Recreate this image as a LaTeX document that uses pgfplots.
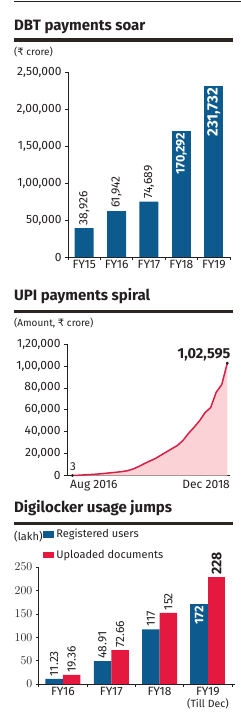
\documentclass[border=0pt]{standalone}
\usepackage{pgfplots}
\pgfplotsset{compat=1.18}
\usepackage{pgfplotstable}
\usepackage{fontspec}
\setmainfont{Fira Sans}
\newfontfamily\rupeefont{DejaVu Sans}
\definecolor{ink}{HTML}{231F20}
\definecolor{rulec}{HTML}{2B2623}
\definecolor{dbtblue}{HTML}{0C5A8E}
\definecolor{upired}{HTML}{D81E45}
\definecolor{upifill}{HTML}{FBD3D6}
\definecolor{dlred}{HTML}{E5193F}
\newcommand\tickfont{\fontsize{12}{13}\selectfont}
\newcommand\titlefont{\fontsize{15}{16}\selectfont\bfseries}
\newcommand\unitfont{\fontsize{10}{11}\selectfont}

\pgfplotstableread{
m v
0 3
1 200
2 500
3 800
4 1100
5 1500
6 2000
7 2500
8 3000
9 3600
10 4400
11 6000
12 8200
13 10800
14 13200
15 15500
16 18500
17 21500
18 24500
19 27500
20 32000
21 38500
22 44000
23 50000
24 57500
25 62000
26 76000
27 83000
28 102595
}\upidata

\pgfplotstableread{
x y l
0 38926 38,926
1 61942 61,942
2 74689 74,689
}\dbtA
\pgfplotstableread{
x y l
3 170292 170,292
}\dbtB
\pgfplotstableread{
x y l
4 231732 231,732
}\dbtC

\pgfplotsset{
  panel/.style={
    scale only axis, anchor=south west, clip=false,
    axis x line=bottom, axis y line=left,
    axis line style={-, ink, line width=0.6pt},
    tick align=outside, major tick length=3pt,
    tick style={ink, line width=0.6pt},
    tick label style={font=\tickfont, text=ink},
    scaled y ticks=false,
  },
  lbl/.style={point meta=explicit symbolic, nodes near coords={\pgfplotspointmeta}},
}

\begin{document}
\begin{tikzpicture}[x=1pt,y=1pt]
% ---------- Panel 1 ----------
\draw[ink, line width=0.8pt] (14,-1) -- (241,-1);
\node[anchor=base west, inner sep=0, font=\titlefont, text=ink] at (14,-30) {DBT payments soar};
\draw[rulec, line width=3.3pt] (14,-40) -- (233,-40);
\node[anchor=base west, inner sep=0, font=\unitfont, text=ink] at (14,-55.5) {({\rupeefont ₹} crore)};

\begin{axis}[panel,
  at={(68pt,-257pt)}, width=162pt, height=185pt,
  xmin=-0.5, xmax=4.5, ymin=0, ymax=250000,
  xtick={-0.5,0.5,1.5,2.5,3.5,4.5}, xticklabels={},
  extra x ticks={0,1,2,3,4},
  extra x tick labels={FY15,FY16,FY17,FY18,FY19},
  extra x tick style={major tick length=0pt},
  ytick={0,50000,100000,150000,200000,250000},
  yticklabels={0,{50,000},{1,00,000},{1,50,000},{2,00,000},{2,50,000}},
]
\addplot[ybar, bar width=19pt, bar shift=0pt, fill=dbtblue, draw=none, lbl,
  nodes near coords style={rotate=90, anchor=west, inner sep=3pt, font=\fontsize{12}{13}\selectfont, text=ink}]
  table[x=x, y=y, meta=l] {\dbtA};
\addplot[ybar, bar width=19pt, bar shift=0pt, fill=dbtblue, draw=none, lbl,
  nodes near coords style={rotate=90, anchor=east, inner sep=2pt, font=\fontsize{12.5}{13}\selectfont\bfseries, text=white}]
  table[x=x, y=y, meta=l] {\dbtB};
\addplot[ybar, bar width=19pt, bar shift=0pt, fill=dbtblue, draw=none, lbl,
  nodes near coords style={rotate=90, anchor=east, inner sep=2.5pt, font=\fontsize{15}{16}\selectfont\bfseries, text=white}]
  table[x=x, y=y, meta=l] {\dbtC};
\end{axis}

% ---------- Panel 2 ----------
\node[anchor=base west, inner sep=0, font=\titlefont, text=ink] at (14,-300) {UPI payments spiral};
\draw[rulec, line width=3.3pt] (14,-311.7) -- (233,-311.7);
\node[anchor=base west, inner sep=0, font=\unitfont, text=ink] at (14,-326.5) {(Amount, {\rupeefont ₹} crore)};

\begin{axis}[panel,
  at={(67pt,-475.5pt)}, width=163pt, height=131.5pt,
  xmin=-0.96, xmax=28.49, ymin=0, ymax=120000,
  xtick=\empty,
  ytick={0,20000,40000,60000,80000,100000,120000},
  yticklabels={0,{20,000},{40,000},{60,000},{80,000},{1,00,000},{1,20,000}},
]
\addplot[draw=none, fill=upifill] table[x=m, y=v] {\upidata} \closedcycle;
\addplot[upired, line width=1.5pt, line join=round] table[x=m, y=v] {\upidata};
\addplot[only marks, mark=*, mark size=1.2pt, ink] coordinates {(0,3) (28,102595)};
\end{axis}
\node[anchor=base west, inner sep=0, font=\fontsize{11.5}{12}\selectfont, text=ink] at (70,-470) {3};
\node[anchor=base east, inner sep=0, font=\fontsize{14.5}{15}\selectfont\bfseries, text=ink] at (230.7,-358.3) {1,02,595};
\node[anchor=base west, inner sep=0, font=\tickfont, text=ink] at (70,-488) {Aug 2016};
\node[anchor=base east, inner sep=0, font=\tickfont, text=ink] at (230,-488) {Dec 2018};

% ---------- Panel 3 ----------
\node[anchor=base west, inner sep=0, font=\titlefont, text=ink] at (14,-512.7) {Digilocker usage jumps};
\draw[rulec, line width=3.3pt] (14,-523.7) -- (233,-523.7);
\node[anchor=west, inner sep=0, font=\fontsize{11}{12}\selectfont, text=ink] at (14,-536.5) {(lakh)};

\begin{axis}[panel,
  at={(38.8pt,-684pt)}, width=195.7pt, height=117pt,
  xmin=-0.5, xmax=3.55, ymin=0, ymax=250,
  xtick={-0.5,0.5,1.5,2.5,3.5}, xticklabels={},
  extra x ticks={0,1,2,3},
  extra x tick labels={FY16,FY17,FY18,{FY19\\[-1pt]{\fontsize{10.5}{11}\selectfont(Till Dec)}}},
  extra x tick style={major tick length=0pt, tick label style={align=center}},
  ytick={0,50,100,150,200,250},
  legend image code/.code={\fill[#1] (0pt,-3.4pt) rectangle (10.7pt,3.4pt);},
  legend style={at={(0.021,1.33)}, anchor=north west, draw=none, fill=none,
    inner sep=0pt, row sep=10pt, column sep=2pt,
    font=\fontsize{11}{12}\selectfont, text=ink,
    nodes={inner sep=0.5pt}},
  legend cell align=left,
]
\addplot[ybar, bar width=17.5pt, bar shift=-8.75pt, fill=dbtblue, draw=none, forget plot, lbl,
  nodes near coords style={xshift=-8.75pt, rotate=90, anchor=west, inner sep=2.5pt, font=\fontsize{12}{13}\selectfont, text=ink}]
  table[x=x, y=y, meta=l, row sep=\\] {x y l\\ 0 11.23 11.23\\ 1 48.91 48.91\\ 2 117 117\\};
\addplot[ybar, bar width=17.5pt, bar shift=-8.75pt, fill=dbtblue, draw=none, forget plot, lbl,
  nodes near coords style={xshift=-8.75pt, rotate=90, anchor=east, inner sep=2.5pt, font=\fontsize{12.5}{13}\selectfont\bfseries, text=white}]
  table[x=x, y=y, meta=l, row sep=\\] {x y l\\ 3 172 172\\};
\addplot[ybar, bar width=17.5pt, bar shift=8.75pt, fill=dlred, draw=none, forget plot, lbl,
  nodes near coords style={xshift=8.75pt, rotate=90, anchor=west, inner sep=2.5pt, font=\fontsize{12}{13}\selectfont, text=ink}]
  table[x=x, y=y, meta=l, row sep=\\] {x y l\\ 0 19.36 19.36\\ 1 72.66 72.66\\ 2 152 152\\};
\addplot[ybar, bar width=17.5pt, bar shift=8.75pt, fill=dlred, draw=none, forget plot, lbl,
  nodes near coords style={xshift=8.75pt, rotate=90, anchor=west, inner sep=2.5pt, font=\fontsize{14}{15}\selectfont\bfseries, text=ink}]
  table[x=x, y=y, meta=l, row sep=\\] {x y l\\ 3 228 228\\};
\addlegendimage{fill=dbtblue, draw=none}
\addlegendentry{Registered users}
\addlegendimage{fill=dlred, draw=none}
\addlegendentry{Uploaded documents}
\end{axis}

\pgfresetboundingbox
\path[use as bounding box] (0,0) rectangle (241,-713);
\end{tikzpicture}
\end{document}
